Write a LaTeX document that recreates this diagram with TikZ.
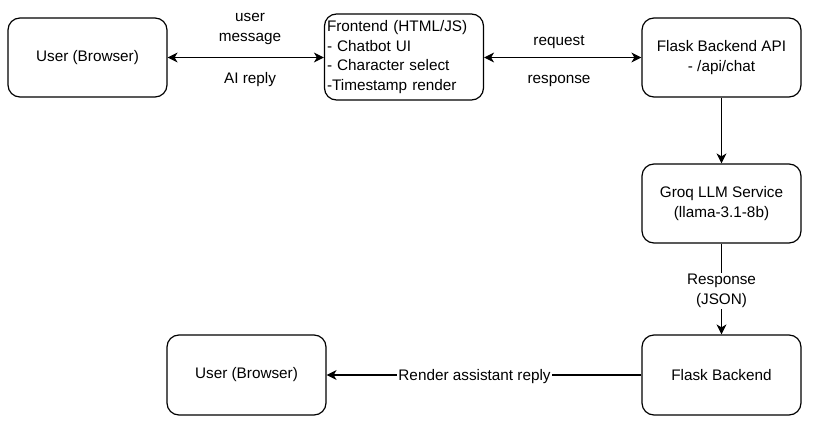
\documentclass[tikz,border=0pt]{standalone}
\usepackage{fontspec}
\setmainfont{Liberation Sans}
\usetikzlibrary{arrows.meta,positioning}

\begin{document}
\begin{tikzpicture}[x=1pt,y=-1pt,
  box/.style={draw,rounded corners=12pt,line width=1.2pt,minimum width=159pt,minimum height=79pt,align=center,font=\fontsize{15.3}{19.5}\selectfont},
  conn/.style={line width=1.2pt,-{Stealth[length=10pt,width=10pt,inset=3pt]}},
  twoway/.style={line width=1.2pt,{Stealth[length=10pt,width=10pt,inset=3pt]}-{Stealth[length=10pt,width=10pt,inset=3pt]}},
  lbl/.style={font=\fontsize{15.3}{19.5}\selectfont,align=center,inner sep=1pt}]
\useasboundingbox (0,0) rectangle (830,428);

\node[box] (user1) at (87.5,57.5) {User (Browser)};
\node[box,minimum height=86pt,text width=154pt,align=left,inner sep=2pt] (front) at (404,57) {Frontend (HTML/JS)\\- Chatbot UI\\- Character select\\-Timestamp render};
\node[box] (api) at (721.5,57.5) {Flask Backend API\\- /api/chat};
\node[box] (groq) at (721.5,203.5) {Groq LLM Service\\(llama-3.1-8b)};
\node[box,minimum height=80pt] (flask) at (721.5,375) {Flask Backend};
\node[box,minimum height=80pt] (user2) at (246.5,375) {User (Browser)};

% top row
\draw[twoway] (user1.east) -- (user1.east -| front.west);
\node[lbl] (msgup) at (250,29) {user\\message};
\node[lbl] (msgdown) at (250,80) {AI reply};
\draw[twoway] (api.west -| front.east) -- (api.west);
\node[lbl] (requp) at (559,42) {request};
\node[lbl] (resdown) at (559,81) {response};

% down the right side and back
\draw[conn] (api) -- (groq);
\draw[conn] (groq) -- node[lbl,fill=white,yshift=-2pt] (jsonlbl) {Response\\(JSON)} (flask);
\draw[conn] (flask) -- node[lbl,fill=white,pos=0.53,yshift=-2pt] (renderlbl) {Render assistant reply} (user2);
\end{tikzpicture}
\end{document}
